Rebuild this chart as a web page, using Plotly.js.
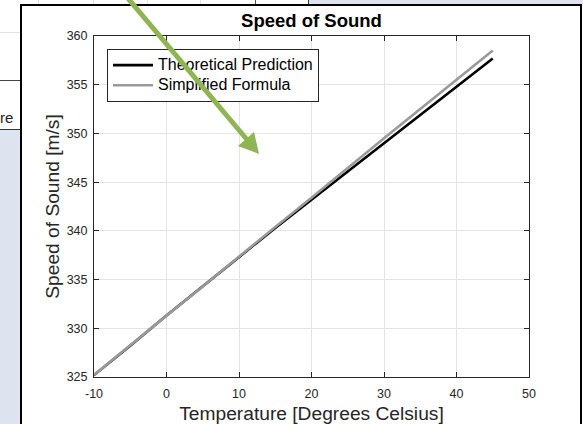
<!DOCTYPE html>
<html>
<head>
<meta charset="utf-8">
<script src="https://cdn.plot.ly/plotly-3.0.1.min.js"></script>
<style>
  html, body { margin: 0; padding: 0; background: #ffffff; }
  #stage { position: relative; width: 583px; height: 424px; overflow: hidden; background: #ffffff;
           font-family: "Liberation Sans", Arial, sans-serif; }
  .abs { position: absolute; }
  #frame { left: 20px; top: 4px; width: 558px; height: 430px; border: 2px solid #000; background: #fff; }
  #chart { left: 0; top: 0; width: 583px; height: 424px; }
  #overlay { left: 0; top: 0; width: 583px; height: 424px; pointer-events: none; }
</style>
</head>
<body>
<div id="stage">
  <!-- surrounding window pieces -->
  <div class="abs" style="left:0;top:32px;width:20px;height:1px;background:#e2e2e2"></div>
  <div class="abs" style="left:38px;top:0;width:1px;height:4px;background:#e2e2e2"></div>
  <div class="abs" style="left:93px;top:0;width:1px;height:4px;background:#e2e2e2"></div>
  <div class="abs" style="left:147px;top:0;width:1px;height:4px;background:#e2e2e2"></div>
  <div class="abs" style="left:200px;top:0;width:1px;height:4px;background:#e2e2e2"></div>
  <div class="abs" style="left:255px;top:0;width:1px;height:4px;background:#555"></div>
  <div class="abs" style="left:308px;top:0;width:275px;height:4px;background:#dde4ef;border-left:1px solid #333"></div>
  <div class="abs" style="left:0;top:80px;width:20px;height:1px;background:#444"></div>
  <div class="abs" style="left:0;top:108px;width:20px;height:20px;font-size:15px;color:#222;line-height:20px">re</div>
  <div class="abs" style="left:0;top:129px;width:20px;height:1px;background:#333"></div>
  <div class="abs" style="left:0;top:130px;width:20px;height:294px;background:#dde4ef"></div>

  <div id="frame" class="abs"></div>
  <div id="chart" class="abs"></div>

  <svg id="overlay" class="abs" width="583" height="424">
    <line x1="126" y1="-4" x2="249" y2="142" stroke="#8fb552" stroke-width="5"/>
    <polygon points="259,154 238,146 254,132" fill="#8fb552"/>
  </svg>
</div>

<script>
// Temperatures in degrees Celsius
const temperature = [-10, -5, 0, 5, 10, 15, 20, 25, 30, 35, 40, 45];
// Speed of sound [m/s], full model
const theoretical = [325.2, 328.2, 331.3, 334.3, 337.3, 340.3, 343.2, 346.1, 349.0, 351.9, 354.8, 357.7];
// Speed of sound [m/s], linear approximation
const simplified = [325.2, 328.3, 331.3, 334.3, 337.4, 340.4, 343.4, 346.5, 349.5, 352.5, 355.5, 358.5];

const xTicks = [-10, 0, 10, 20, 30, 40, 50];
const yTicks = [325, 330, 335, 340, 345, 350, 355, 360];

const seriesNames = ["Theoretical Prediction", "Simplified Formula"];
const titleText = "Speed of Sound";
const xTitle = "Temperature [Degrees Celsius]";
const yTitle = "Speed of Sound [m/s]";

const FONT = "Liberation Sans, Arial, Helvetica, sans-serif";
const AX = "#262626";

// legend text is drawn a little larger than the row spacing implies
const legendLabel = s => '<span style="font-size:16px">' + s + '</span>';

const traces = [
  { x: temperature, y: theoretical, name: legendLabel(seriesNames[0]), mode: "lines",
    line: { color: "#000000", width: 2.6 } },
  { x: temperature, y: simplified, name: legendLabel(seriesNames[1]), mode: "lines",
    line: { color: "#9a9a9a", width: 2.6 } }
];

const axisCommon = {
  showline: true, linecolor: AX, linewidth: 1, mirror: "ticks",
  ticks: "inside", ticklen: 5, tickwidth: 1, tickcolor: AX,
  showgrid: true, gridcolor: "#e4e4e4", gridwidth: 1,
  zeroline: false, tickfont: { family: FONT, size: 12.5, color: AX }
};

const layout = {
  width: 583, height: 424,
  margin: { l: 94, r: 54, t: 36, b: 47, pad: 0 },
  paper_bgcolor: "rgba(0,0,0,0)", plot_bgcolor: "#ffffff",
  font: { family: FONT, color: AX },
  title: { text: "<b>" + titleText + "</b>", font: { family: FONT, size: 18.5, color: "#000" },
           x: 0.5, xref: "paper", xanchor: "center", y: 1 - 21 / 424, yref: "container", yanchor: "middle" },
  xaxis: Object.assign({}, axisCommon, {
    range: [-10, 50], tickmode: "array", tickvals: xTicks, ticktext: xTicks.map(String),
    ticklabelstandoff: 5,
    title: { text: xTitle, font: { family: FONT, size: 19.2, color: AX }, standoff: 7 }
  }),
  yaxis: Object.assign({}, axisCommon, {
    range: [325, 360], tickmode: "array", tickvals: yTicks, ticktext: yTicks.map(String),
    ticklabelstandoff: 3,
    title: { text: yTitle, font: { family: FONT, size: 19.2, color: AX }, standoff: 1 }
  }),
  showlegend: true,
  legend: {
    x: (107 - 94) / 435, y: (377 - 49) / 341, xanchor: "left", yanchor: "top",
    bgcolor: "#ffffff", bordercolor: AX, borderwidth: 1,
    font: { family: FONT, size: 13.2, color: "#000" },
    itemwidth: 40, tracegroupgap: 0
  }
};

Plotly.newPlot("chart", traces, layout, { staticPlot: true, displayModeBar: false });
</script>
</body>
</html>
